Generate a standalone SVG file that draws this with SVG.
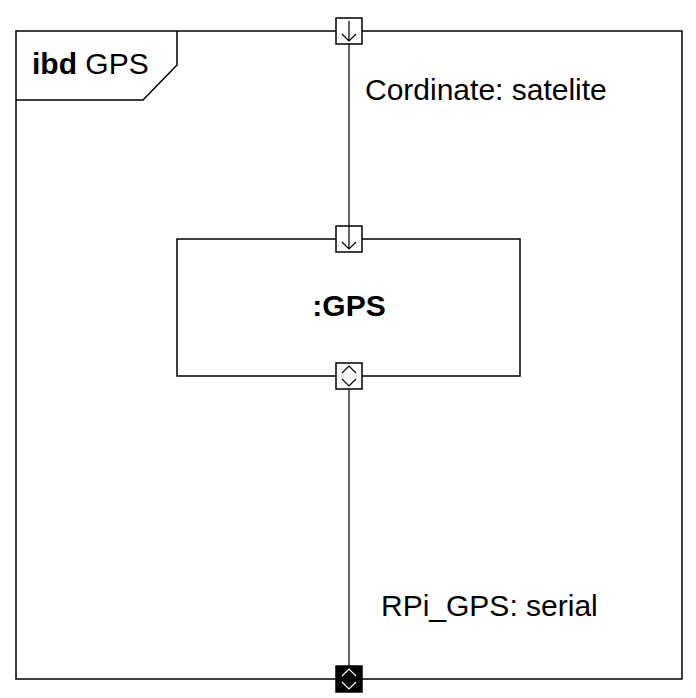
<svg xmlns="http://www.w3.org/2000/svg" width="696" height="698" viewBox="0 0 696 698">
<style>
.ln{fill:none;stroke:#000;stroke-width:1.5}
.cn{fill:none;stroke:#000;stroke-width:1.2}
.pt{fill:#fff;stroke:#000;stroke-width:1.5}
.ptb{fill:#000;stroke:#000;stroke-width:1.5}
.sym{fill:none;stroke:#000;stroke-width:1.2}
.symw{fill:none;stroke:#fff;stroke-width:1.2}
text{font-family:"Liberation Sans",Arial,sans-serif;font-size:30px;fill:#000}
</style>
<rect width="696" height="698" fill="#fff"/>
<g id="frame">
<rect class="ln" x="16" y="31" width="666" height="648"/>
<path class="ln" d="M16,100 H143 L177,65 V31"/>
<text x="32" y="74"><tspan font-weight="bold">ibd</tspan> GPS</text>
</g>
<g id="connectors">
<line class="cn" x1="349" y1="44" x2="349" y2="226"/>
<line class="cn" x1="349" y1="389" x2="349" y2="666"/>
<text x="365" y="100">Cordinate: satelite</text>
<text x="381" y="616">RPi_GPS: serial</text>
</g>
<g id="gps_block">
<rect class="ln" x="177" y="239" width="343" height="137"/>
<text x="349" y="316" text-anchor="middle" font-weight="bold">:GPS</text>
</g>
<g id="port_frame_top">
<rect class="pt" x="336" y="18" width="26" height="26"/>
<path class="sym" d="M349,21 V41 M342,34 L349,41 L356,34"/>
</g>
<g id="port_gps_in">
<rect class="pt" x="336" y="226" width="26" height="26"/>
<path class="sym" d="M349,226 V249 M342,242 L349,249 L356,242"/>
</g>
<g id="port_gps_io">
<rect class="pt" x="336" y="363" width="26" height="26"/>
<path class="sym" d="M342,373 L349,366 L356,373 M342,379 L349,386 L356,379"/>
</g>
<g id="port_frame_bottom">
<rect class="ptb" x="336" y="666" width="26" height="26"/>
<path class="symw" d="M342,676 L349,669 L356,676 M342,682 L349,689 L356,682"/>
</g>
</svg>
